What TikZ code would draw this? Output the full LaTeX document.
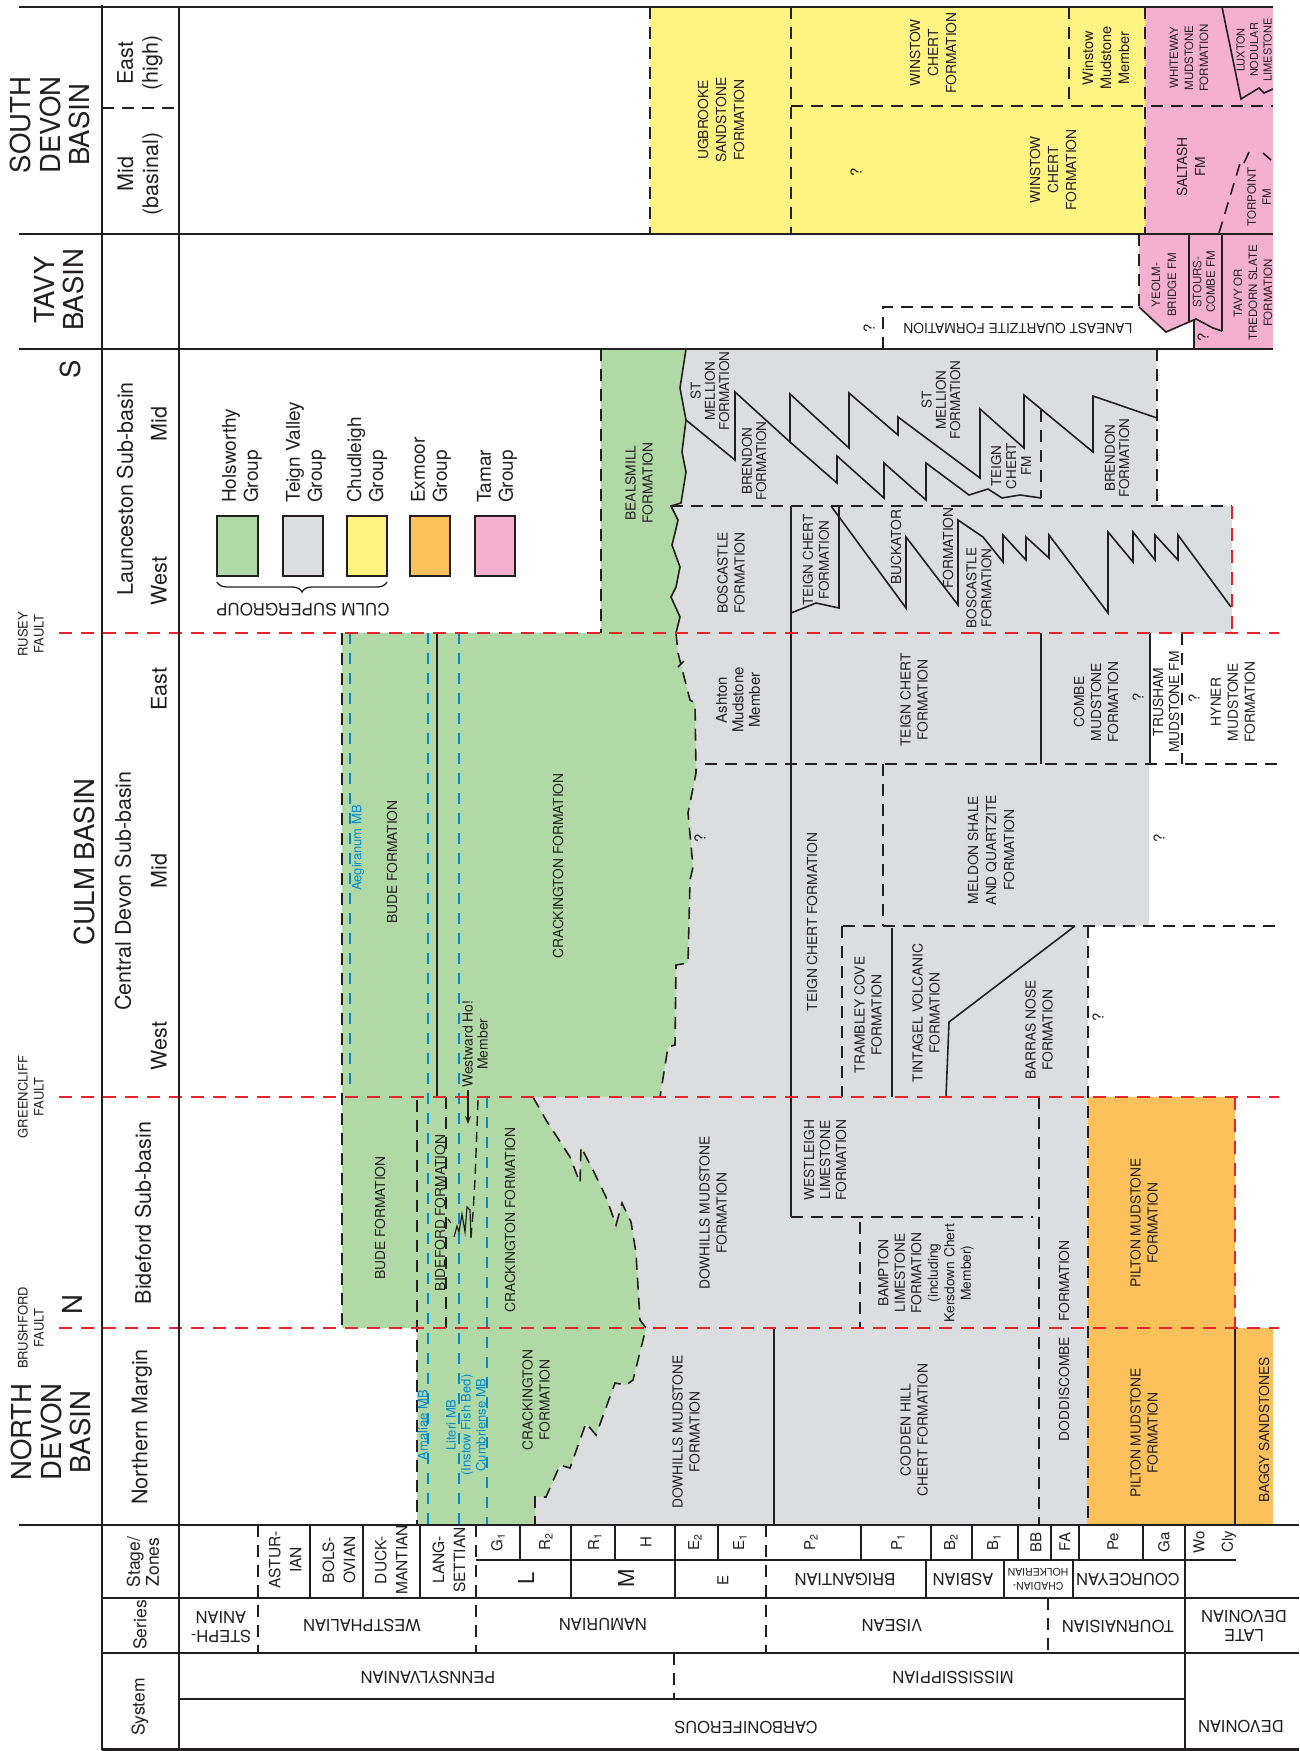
\documentclass[tikz,border=0pt]{standalone}
\usepackage{fontspec}
\setmainfont{TeX Gyre Heros}
\usetikzlibrary{decorations.pathreplacing,arrows.meta}

\definecolor{ink}{RGB}{35,31,32}
\definecolor{holsgreen}{RGB}{177,217,166}
\definecolor{teigngray}{RGB}{220,221,223}
\definecolor{chudyellow}{RGB}{255,243,130}
\definecolor{exorange}{RGB}{253,193,92}
\definecolor{tamarpink}{RGB}{245,176,208}
\definecolor{faultred}{RGB}{232,36,42}
\definecolor{mbblue}{RGB}{0,138,206}

\tikzset{
  boldrule/.style={draw=ink, line width=2.2pt},
  thinrule/.style={draw=ink, line width=1.6pt},
  dsh/.style={draw=ink, line width=1.6pt, dash pattern=on 12pt off 8pt},
  fault/.style={draw=faultred, line width=1.8pt, dash pattern=on 13pt off 9pt},
  bdash/.style={draw=mbblue, line width=1.5pt, dash pattern=on 11pt off 9pt},
  base/.style={inner sep=0pt, align=center, text=ink},
  up/.style={base, rotate=90},
  inv/.style={base, rotate=180, font=\fontsize{16.5}{19}\selectfont},
  reg/.style={up, font=\fontsize{27.5}{29.5}\selectfont},
  sub/.style={up, font=\fontsize{21.5}{25}\selectfont},
  flt/.style={up, font=\fontsize{13}{16}\selectfont},
  fm/.style={up, font=\fontsize{13.8}{17}\selectfont},
  fms/.style={up, font=\fontsize{11.5}{15}\selectfont},
  mbr/.style={up, font=\fontsize{14.5}{17}\selectfont},
  blu/.style={up, text=mbblue, font=\fontsize{13}{15}\selectfont},
  hdr/.style={up, font=\fontsize{17.5}{19}\selectfont},
  stg/.style={up, font=\fontsize{15.5}{21}\selectfont},
  zn/.style={up, font=\fontsize{15}{17}\selectfont},
  qm/.style={up, font=\fontsize{15}{17}\selectfont},
  leg/.style={base, rotate=90, anchor=west, align=left, font=\fontsize{19}{22}\selectfont},
}

\begin{document}
\begin{tikzpicture}[x=1pt,y=-1pt]
\fill[white] (0,0) rectangle (1299,1751);
\useasboundingbox (0,0) rectangle (1299,1751);

% ---------------- colour fills ----------------
\fill[chudyellow] (650,7) rectangle (1145,234);
\fill[tamarpink] (1145,7) rectangle (1273,234);
\fill[tamarpink] (1139,234) -- (1273,234) -- (1273,349) -- (1194,349) -- (1194,320)
  -- (1189,322) -- (1166,332) -- (1139,307) -- cycle;
\fill[teigngray] (650,349) rectangle (1157,506);
\fill[teigngray] (650,506) rectangle (1232,633);
\fill[teigngray] (650,633) rectangle (1150,764);
\fill[teigngray] (650,764) rectangle (1149,926);
\fill[teigngray] (650,926) rectangle (1088,1097);
\fill[teigngray] (520,1097) rectangle (1088,1328);
\fill[teigngray] (520,1328) rectangle (1087,1525);
\fill[exorange] (1088,1097) rectangle (1235,1328);
\fill[exorange] (1087,1328) rectangle (1273,1525);
% Bealsmill Formation
\fill[holsgreen] (601,349) -- (686,349) -- (680,388) -- (686,420) -- (682,452) -- (686,472)
  -- (681,503) -- (671,506) -- (678,520)
  -- (675,533) -- (672,545) -- (680,567) -- (676,587) -- (671,597) -- (680,617) -- (676,633)
  -- (601,633) -- cycle;
% Holsworthy Group, Central Devon to Northern Margin
\fill[holsgreen] (342,633) -- (676,633) -- (678,653) -- (690,700) -- (695,703) -- (696,773)
  -- (688,813) -- (693,867) -- (690,880) -- (688,963) -- (676,965) -- (675,1045) -- (668,1047)
  -- (660,1097) -- (533,1097) -- (546,1120) -- (561,1143) -- (570,1157) -- (580,1183)
  -- (581,1147) -- (593,1170) -- (606,1197) -- (616,1225) -- (622,1203) -- (631,1222)
  -- (636,1253) -- (640,1320) -- (646,1328) -- (633,1380) -- (626,1385) -- (615,1383)
  -- (596,1435) -- (586,1423) -- (570,1468) -- (560,1465) -- (546,1497) -- (535,1497)
  -- (535,1525) -- (417,1525) -- (417,1328) -- (342,1328) -- cycle;

% ---------------- South Devon Basin ----------------
\draw[dsh] (650,7) -- (650,234);
\draw[dsh] (791,7) -- (791,234);
\draw[dsh] (791,106) -- (1273,106);
\draw[dsh] (1069,7) -- (1069,106);
\draw[dsh] (1145,7) -- (1145,234);
\draw[thinrule] (1222,7) -- (1241,99) -- (1259,88) -- (1264,93) -- (1273,89);
\draw[dsh] (1219,233) -- (1241,160);
\draw[thinrule] (1244,163) -- (1249,152);
\draw[thinrule] (1263,153) -- (1271,160);

% ---------------- Tavy Basin ----------------
\draw[dsh] (883,349) -- (883,307) -- (1139,307);
\draw[dsh] (1139,234) -- (1139,307);
\draw[thinrule] (1139,307) -- (1166,332) -- (1189,322) -- (1196,319) -- (1213,328) -- (1222,331);
\draw[thinrule] (1189,234) -- (1189,322);
\draw[thinrule] (1222,234) -- (1222,331);
\draw[thinrule] (1194,320) -- (1194,349);

% ---------------- Launceston Sub-basin ----------------
\draw[dsh] (601,349) -- (601,633);
\draw[thinrule] (686,349) -- (680,388) -- (686,420) -- (682,452) -- (686,472)
  -- (681,503) -- (671,506) -- (678,520)
  -- (675,533) -- (672,545) -- (680,567) -- (676,587) -- (671,597) -- (680,617) -- (676,633);
\draw[dsh] (1157,349) -- (1157,506);
\draw[dsh] (671,506) -- (1232,506);
% St Mellion / Brendon interfingering
\draw[thinrule] (686,420) -- (735,460) -- (735,392) -- (790,442) -- (790,394) -- (849,448)
  -- (849,393) -- (898,435) -- (898,417) -- (980,478) -- (980,409) -- (1024,448) -- (1024,395)
  -- (1093,452) -- (1093,396) -- (1157,418);
\draw[thinrule] (790,442) -- (837,483) -- (837,456) -- (884,498) -- (884,463) -- (926,500)
  -- (926,463) -- (969,495) -- (988,489) -- (1002,498) -- (1020,495) -- (1041,498);
\draw[dsh] (1041,410) -- (1041,498);
\draw[thinrule] (791,506) -- (791,1217);
\draw[thinrule] (839,506) -- (839,608) -- (816,603) -- (791,613);
\draw[thinrule] (831,506) -- (906,608) -- (906,537) -- (958,605) -- (958,520) -- (983,537)
  -- (1003,562) -- (1003,535) -- (1026,560) -- (1026,537) -- (1049,558) -- (1049,535)
  -- (1108,613) -- (1108,532) -- (1133,562) -- (1133,532) -- (1155,560) -- (1155,535)
  -- (1178,560) -- (1178,535) -- (1231,607);

% ---------------- Central Devon Sub-basin ----------------
\draw[dsh] (342,633) -- (342,1328);
\draw[bdash] (350,633) -- (350,1093);
\draw[bdash] (428,633) -- (428,1525);
\draw[thinrule] (437,633) -- (437,1097);
\draw[bdash] (459,633) -- (459,1525);
\draw[dsh] (676,633) -- (678,653) -- (690,700) -- (695,703) -- (696,773)
  -- (688,813) -- (693,867) -- (690,880) -- (688,963) -- (676,965) -- (675,1045) -- (668,1047)
  -- (660,1097);
\draw[thinrule] (678,667) -- (684,661);
\draw[dsh] (705,764) -- (1279,764);
\draw[thinrule] (1041,633) -- (1041,764);
\draw[thinrule] (1150,633) -- (1150,764);
\draw[dsh] (1182,633) -- (1182,764);
\draw[dsh] (883,764) -- (883,926);
\draw[dsh] (843,926) -- (1279,926);
\draw[dsh] (842,926) -- (842,1097);
\draw[thinrule] (892,928) -- (892,1097);
\draw[thinrule] (946,1097) -- (949,1022) -- (1075,926);
\draw[dsh] (1088,926) -- (1088,1525);

% ---------------- Bideford Sub-basin and Northern Margin ----------------
\draw[dsh] (417,1100) -- (417,1525);
\draw[dsh] (446,1097) -- (446,1328);
\draw[bdash] (487,1097) -- (487,1525);
\draw[ink, line width=1.4pt, dash pattern=on 10pt off 6pt] (478,1100) -- (475,1180) -- (473,1213) -- (471,1237);
\draw[ink, line width=1.2pt] (448,1219) -- (451,1223);
\draw[ink, line width=1.2pt] (454,1237) -- (457,1226) -- (459,1232) -- (462,1214) -- (465,1232) -- (467,1207) -- (470,1210) -- (471,1238);
\draw[dsh] (533,1097) -- (546,1120) -- (561,1143) -- (570,1157) -- (580,1183)
  -- (581,1147) -- (593,1170) -- (606,1197) -- (616,1225) -- (622,1203) -- (631,1222)
  -- (636,1253) -- (640,1320) -- (646,1328) -- (633,1380) -- (626,1385) -- (615,1383)
  -- (596,1435) -- (586,1423) -- (570,1468) -- (560,1465) -- (546,1497) -- (535,1497)
  -- (535,1525);
\draw[thinrule] (774,1328) -- (774,1525);
\draw[dsh] (791,1217) -- (1033,1217);
\draw[dsh] (860,1222) -- (860,1328);
\draw[dsh] (1039,1097) -- (1039,1525);
\draw[thinrule] (1235,1328) -- (1235,1525);

% ---------------- faults ----------------
\draw[fault] (59,633) -- (1279,633);
\draw[fault] (59,1097) -- (1279,1097);
\draw[fault] (59,1328) -- (1279,1328);
\draw[fault] (1232,506) -- (1232,633);
\draw[fault] (1235,1097) -- (1235,1328);

% ---------------- frame ----------------
\draw[boldrule] (19,7) -- (1273,7);
\draw[boldrule] (19,234) -- (1273,234);
\draw[boldrule] (19,349) -- (1273,349);
\draw[boldrule] (102,5) -- (102,1750);
\draw[boldrule] (179,7) -- (179,1750);
\draw[dsh] (102,108) -- (179,108);
\draw[boldrule] (19,1525) -- (1299,1525);
\draw[boldrule] (102,1598) -- (1299,1598);
\draw[boldrule] (102,1653) -- (1299,1653);
\draw[boldrule] (179,1699) -- (1185,1699);
\draw[boldrule] (102,1749.5) -- (1299,1749.5);
\draw[thinrule] (476,1560) -- (1236,1560);
\foreach \xx in {520,615,718,861,931,972,1018,1051,1079,1143}
  \draw[thinrule] (\xx,1525) -- (\xx,1560);
\foreach \xx in {310,363,420,571,675}
  \draw[thinrule] (\xx,1525) -- (\xx,1598);
\foreach \xx in {926,1004,1073}
  \draw[thinrule] (\xx,1560) -- (\xx,1598);
\foreach \xx in {258,476,766}
  \draw[dsh] (\xx,1525) -- (\xx,1653);
\draw[dsh] (1048,1598) -- (1048,1653);
\draw[dsh] (674,1653) -- (674,1699);
\draw[boldrule] (1185,1525) -- (1185,1750);

% ---------------- legend ----------------
\draw[thinrule, fill=holsgreen] (217,516) rectangle (258,576);
\draw[thinrule, fill=teigngray] (283,516) rectangle (323,576);
\draw[thinrule, fill=chudyellow] (347,516) rectangle (387,576);
\draw[thinrule, fill=exorange] (410,516) rectangle (450,576);
\draw[thinrule, fill=tamarpink] (475,516) rectangle (515,576);
\draw[ink, line width=1.3pt, decorate, decoration={brace, amplitude=10pt}] (387,582) -- (217,582);
\node[leg] (lhols) at (242,503) {Holsworthy\\Group};
\node[leg] (lteign) at (306,503) {Teign Valley\\Group};
\node[leg] (lchud) at (367,503) {Chudleigh\\Group};
\node[leg] (lexm) at (431,503) {Exmoor\\Group};
\node[leg] (ltam) at (497,503) {Tamar\\Group};
\node[base, rotate=180, font=\fontsize{17}{19}\selectfont] (culmsg) at (303,610) {CULM SUPERGROUP};

% ---------------- region headers ----------------
\node[reg] (sdb) at (50,125) {SOUTH\\DEVON\\BASIN};
\node[reg] (tavyb) at (59,290) {TAVY\\BASIN};
\node[reg] (sletter) at (70,369) {S};
\node[reg] (culmb) at (84,862) {CULM BASIN};
\node[reg] (nletter) at (72,1305) {N};
\node[reg] (ndb) at (51,1432) {NORTH\\DEVON\\BASIN};
\node[flt] (rusey) at (31,634) {RUSEY\\FAULT};
\node[flt] (greencliff) at (31,1097) {GREENCLIFF\\FAULT};
\node[flt] (brushford) at (31,1328) {BRUSHFORD\\FAULT};

\node[sub] (eastHigh) at (140,63) {East\\(high)};
\node[sub] (midBasinal) at (140,174) {Mid\\(basinal)};
\node[sub] (launceston) at (125,489) {Launceston Sub-basin};
\node[sub] (lmid) at (159,424) {Mid};
\node[sub] (lwest) at (159,581) {West};
\node[sub] (central) at (123,891) {Central Devon Sub-basin};
\node[sub] (ceast) at (159,689) {East};
\node[sub] (cmid) at (159,871) {Mid};
\node[sub] (cwest) at (159,1046) {West};
\node[sub] (bideford) at (143,1213) {Bideford Sub-basin};
\node[sub] (northern) at (142,1427) {Northern Margin};

% ---------------- South Devon labels ----------------
\node[fm, font=\fontsize{13.8}{18}\selectfont] (ugbrooke) at (721,120) {UGBROOKE\\SANDSTONE\\FORMATION};
\node[fm, font=\fontsize{13.8}{18}\selectfont] (winstowE) at (933,53) {WINSTOW\\CHERT\\FORMATION};
\node[mbr, font=\fontsize{14.5}{18}\selectfont] (winstowMud) at (1106,58) {Winstow\\Mudstone\\Member};
\node[qm] (qsd) at (856,172) {?};
\node[fm, font=\fontsize{13.8}{18}\selectfont] (winstowM) at (1053,170) {WINSTOW\\CHERT\\FORMATION};
\node[fms] (whiteway) at (1189,58) {WHITEWAY\\MUDSTONE\\FORMATION};
\node[fms, font=\fontsize{11}{13.5}\selectfont] (luxton) at (1254,50) {LUXTON\\NODULAR\\LIMESTONE};
\node[fm, font=\fontsize{13.8}{18}\selectfont] (saltash) at (1191,167) {SALTASH\\FM};
\node[fms] (torpoint) at (1259,197) {TORPOINT\\FM};

% ---------------- Tavy labels ----------------
\node[fms, font=\fontsize{11.5}{16}\selectfont] (yeolm) at (1164,285) {YEOLM-\\BRIDGE FM};
\node[fms, font=\fontsize{11.5}{13.5}\selectfont] (stours) at (1204,282) {STOURS-\\COMBE FM};
\node[fms] (tavyfm) at (1253,293) {TAVY OR\\TREDORN SLATE\\FORMATION};
\node[base, rotate=180, font=\fontsize{13.8}{17}\selectfont] (laneast) at (1018,328) {LANEAST QUARTZITE FORMATION};
\node[qm] (qlan) at (869,328) {?};
\node[qm] (qst) at (1203,337) {?};

% ---------------- Launceston labels ----------------
\node[fm] (bealsmill) at (639,483) {BEALSMILL\\FORMATION};
\node[fm, font=\fontsize{13.5}{14.3}\selectfont] (stmel1) at (710,391) {ST\\MELLION\\FORMATION};
\node[fm, font=\fontsize{13.5}{14.3}\selectfont] (brendon1) at (754,461) {BRENDON\\FORMATION};
\node[fm, font=\fontsize{13.5}{14.3}\selectfont] (stmel2) at (941,400) {ST\\MELLION\\FORMATION};
\node[fm, font=\fontsize{13.5}{15}\selectfont] (teignfm) at (1011,466) {TEIGN\\CHERT\\FM};
\node[fm, font=\fontsize{13.5}{14.3}\selectfont] (brendon2) at (1117,458) {BRENDON\\FORMATION};
\node[fm] (bosc1) at (731,573) {BOSCASTLE\\FORMATION};
\node[fm, font=\fontsize{13.5}{16}\selectfont] (teign1) at (816,560) {TEIGN CHERT\\FORMATION};
\node[fm] (buckator) at (896,547) {BUCKATOR};
\node[fm] (buckfm) at (948,548) {FORMATION};
\node[fm, font=\fontsize{13.5}{15}\selectfont] (bosc2) at (979,588) {BOSCASTLE\\FORMATION};

% ---------------- Central Devon labels ----------------
\node[blu] (aegiranum) at (358,848) {Aegiranum MB};
\node[fm] (bude1) at (392,862) {BUDE FORMATION};
\node[fm] (crack1) at (558,866) {CRACKINGTON FORMATION};
\node[mbr, font=\fontsize{14}{15}\selectfont] (westward) at (475,1044) {Westward Ho!\\Member};
\coordinate (whstart) at (468,1090);
\coordinate (whtip) at (468,1124);
\draw[ink, line width=1.2pt, -{Stealth[length=8pt,width=6pt]}] (whstart) -- (whtip);
\node[mbr, font=\fontsize{15}{16.5}\selectfont] (ashton) at (738,700) {Ashton\\Mudstone\\Member};
\node[fm] (teign2) at (914,700) {TEIGN CHERT\\FORMATION};
\node[fm] (combe) at (1096,702) {COMBE\\MUDSTONE\\FORMATION};
\node[qm] (qcombe) at (1138,697) {?};
\node[fm, font=\fontsize{13.8}{16}\selectfont] (trusham) at (1166,702) {TRUSHAM\\MUDSTONE FM};
\node[qm] (qtrush) at (1194,698) {?};
\node[fm] (hyner) at (1233,702) {HYNER\\MUDSTONE\\FORMATION};
\node[qm] (qcm) at (700,838) {?};
\node[fm] (teign3) at (812,922) {TEIGN CHERT FORMATION};
\node[fm, font=\fontsize{13.8}{18}\selectfont] (meldon) at (991,850) {MELDON SHALE\\AND QUARTZITE\\FORMATION};
\node[qm] (qmel) at (1159,838) {?};
\node[fm] (trambley) at (868,1015) {TRAMBLEY COVE\\FORMATION};
\node[fm] (tintagel) at (926,1013) {TINTAGEL VOLCANIC\\FORMATION};
\node[fm] (barras) at (1039,1030) {BARRAS NOSE\\FORMATION};
\node[qm] (qbar) at (1098,1017) {?};

% ---------------- Bideford labels ----------------
\node[fm] (bude2) at (380,1218) {BUDE FORMATION};
\node[fm] (bidefm) at (440,1213) {BIDEFORD FORMATION};
\node[fm] (crack2) at (510,1220) {CRACKINGTON FORMATION};
\node[fm] (dowhills1) at (713,1213) {DOWHILLS MUDSTONE\\FORMATION};
\node[fm, font=\fontsize{13.8}{16}\selectfont] (westleigh) at (825,1160) {WESTLEIGH\\LIMESTONE\\FORMATION};
\node[fm, font=\fontsize{13.8}{16.5}\selectfont] (bampton) at (926,1273) {BAMPTON\\LIMESTONE\\FORMATION\\(including\\Kersdown Chert\\Member)};
\node[fm] (doddfm) at (1064,1281) {FORMATION};
\node[fm] (pilton1) at (1144,1223) {PILTON MUDSTONE\\FORMATION};

% ---------------- Northern Margin labels ----------------
\node[blu] (amaliae) at (423,1425) {Amaliae MB};
\node[blu] (literi) at (466,1425) {Literi MB\\(Instow Fish Bed)\\Cumbriense MB};
\node[fm] (crack3) at (536,1400) {CRACKINGTON\\FORMATION};
\node[fm] (dowhills2) at (686,1432) {DOWHILLS MUDSTONE\\FORMATION};
\node[fm] (codden) at (914,1430) {CODDEN HILL\\CHERT FORMATION};
\node[fm] (doddiscombe) at (1064,1389) {DODDISCOMBE};
\node[fm] (pilton2) at (1144,1433) {PILTON MUDSTONE\\FORMATION};
\node[fm] (baggy) at (1264,1430) {BAGGY SANDSTONES};

% ---------------- time scale ----------------
\node[hdr] (stagehd) at (143,1562) {Stage/\\Zones};
\node[hdr] (serieshd) at (140,1625) {Series};
\node[hdr] (systemhd) at (140,1707) {System};

\node[stg] (asturian) at (285,1560) {ASTUR-\\IAN};
\node[stg] (bolsovian) at (339,1560) {BOLS-\\OVIAN};
\node[stg] (duckmantian) at (391,1560) {DUCK-\\MANTIAN};
\node[stg] (langsettian) at (449,1560) {LANG-\\SETTIAN};

\node[zn] (zG1) at (498,1542) {G\textsubscript{1}};
\node[zn] (zR2) at (546,1542) {R\textsubscript{2}};
\node[zn] (zR1) at (595,1542) {R\textsubscript{1}};
\node[zn] (zH) at (646,1542) {H};
\node[zn] (zE2) at (695,1542) {E\textsubscript{2}};
\node[zn] (zE1) at (740,1542) {E\textsubscript{1}};
\node[zn] (zP2) at (811,1542) {P\textsubscript{2}};
\node[zn] (zP1) at (898,1542) {P\textsubscript{1}};
\node[zn] (zB2) at (951,1542) {B\textsubscript{2}};
\node[zn] (zB1) at (994,1542) {B\textsubscript{1}};
\node[zn] (zBB) at (1036,1542) {BB};
\node[zn] (zFA) at (1065,1542) {FA};
\node[zn] (zPe) at (1113,1542) {Pe};
\node[zn] (zGa) at (1164,1542) {Ga};
\node[zn] (zWo) at (1199,1542) {Wo};
\node[zn] (zCly) at (1229,1542) {Cly};

\node[up, font=\fontsize{22}{24}\selectfont] (stL) at (526,1578) {L};
\node[up, font=\fontsize{22}{24}\selectfont] (stM) at (626,1578) {M};
\node[up, font=\fontsize{15}{17}\selectfont] (stE) at (723,1580) {E};
\node[inv] (brigantian) at (845,1579) {BRIGANTIAN};
\node[inv] (asbian) at (963,1579) {ASBIAN};
\node[inv, font=\fontsize{10.5}{14}\selectfont] (chadian) at (1038,1579) {CHADIAN-\\HOLKERIAN};
\node[inv] (courceyan) at (1128,1579) {COURCEYAN};

\node[inv] (stephanian) at (221,1627) {STEPH-\\ANIAN};
\node[inv] (westphalian) at (362,1625) {WESTPHALIAN};
\node[inv] (namurian) at (603,1624) {NAMURIAN};
\node[inv] (visean) at (892,1625) {VISEAN};
\node[inv] (tournaisian) at (1118,1626) {TOURNAISIAN};
\node[inv] (latedev) at (1244,1626) {LATE\\DEVONIAN};

\node[inv] (pennsylvanian) at (428,1677) {PENNSYLVANIAN};
\node[inv] (mississippian) at (953,1677) {MISSISSIPPIAN};
\node[inv] (carboniferous) at (746,1727) {CARBONIFEROUS};
\node[inv] (devonian) at (1241,1726) {DEVONIAN};
\end{tikzpicture}
\end{document}
